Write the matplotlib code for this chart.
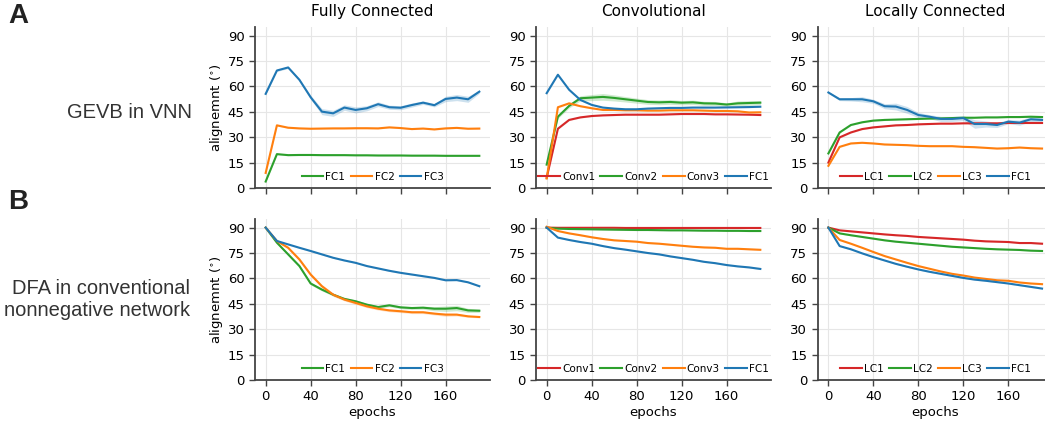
import numpy as np
import matplotlib
matplotlib.use("Agg")
import matplotlib.pyplot as plt

# epochs sampled every 10
epochs = np.arange(0, 200, 10)

BLUE = '#1f77b4'
ORANGE = '#ff7f0e'
GREEN = '#2ca02c'
RED = '#d62728'

# ---- A: GEVB in VNN ----
# fully connected
a_fc_fc1 = [3.8, 20.0, 19.4, 19.5, 19.5, 19.4, 19.4, 19.4, 19.3, 19.3, 19.2, 19.2, 19.2, 19.1, 19.1, 19.1, 19.0, 19.0, 19.0, 19.0]
a_fc_fc2 = [8.9, 37.0, 35.6, 35.2, 35.0, 35.1, 35.2, 35.2, 35.3, 35.3, 35.2, 35.8, 35.4, 34.8, 35.1, 34.6, 35.2, 35.5, 35.0, 35.1]
a_fc_fc3 = [55.6, 69.4, 71.2, 63.9, 53.6, 45.1, 44.1, 47.5, 46.1, 47.1, 49.5, 47.7, 47.4, 49.0, 50.4, 48.9, 52.6, 53.4, 52.4, 56.9]
a_fc_fc3_sd = [0.5, 0.6, 0.6, 0.8, 1.2, 1.8, 1.8, 1.6, 1.8, 1.5, 1.4, 1.2, 1.2, 1.2, 1.0, 1.0, 1.6, 1.8, 1.8, 1.0]
# convolutional
a_cv_conv1 = [6.0, 35.0, 40.2, 41.7, 42.5, 42.9, 43.1, 43.3, 43.3, 43.3, 43.3, 43.5, 43.7, 43.7, 43.7, 43.5, 43.5, 43.4, 43.3, 43.1]
a_cv_conv2 = [13.8, 42.1, 48.5, 53.0, 53.4, 53.8, 53.2, 52.4, 51.6, 50.8, 50.6, 50.8, 50.4, 50.6, 50.0, 49.9, 49.3, 50.0, 50.2, 50.4]
a_cv_conv2_sd = [0.5, 1.0, 1.2, 1.5, 1.8, 2.0, 1.8, 1.6, 1.5, 1.4, 1.4, 1.4, 1.3, 1.3, 1.2, 1.2, 1.0, 1.4, 1.4, 1.2]
a_cv_conv3 = [5.6, 47.7, 50.0, 48.3, 47.1, 46.1, 46.1, 45.9, 45.9, 45.7, 45.7, 45.9, 45.9, 45.9, 45.7, 45.5, 45.5, 45.3, 44.6, 44.7]
a_cv_fc1 = [56.0, 66.9, 58.0, 52.0, 49.1, 47.5, 46.9, 46.5, 46.5, 46.9, 47.1, 47.3, 47.3, 47.5, 47.5, 47.5, 47.6, 47.7, 47.8, 48.0]
# locally connected
a_lc_lc1 = [15.0, 29.9, 32.8, 34.8, 35.8, 36.4, 37.0, 37.2, 37.6, 37.8, 38.0, 38.0, 38.2, 38.2, 38.2, 38.2, 38.4, 38.4, 38.4, 38.4]
a_lc_lc2 = [20.4, 32.8, 37.2, 38.8, 39.8, 40.2, 40.4, 40.6, 40.8, 41.0, 41.1, 41.3, 41.5, 41.5, 41.7, 41.7, 41.9, 41.9, 42.1, 41.9]
a_lc_lc3 = [13.1, 24.3, 26.3, 26.7, 26.3, 25.7, 25.5, 25.3, 24.9, 24.7, 24.7, 24.7, 24.3, 24.1, 23.7, 23.3, 23.5, 23.9, 23.5, 23.3]
a_lc_fc1 = [56.4, 52.4, 52.4, 52.4, 51.2, 48.3, 48.1, 46.1, 43.1, 42.1, 40.8, 40.8, 41.3, 37.8, 37.8, 37.2, 39.2, 38.6, 40.6, 40.2]
a_lc_fc1_sd = [0.5, 0.8, 1.0, 1.5, 1.2, 1.5, 2.0, 2.0, 1.5, 1.2, 1.5, 1.5, 1.5, 2.5, 1.8, 1.5, 1.2, 1.5, 1.5, 1.2]

# ---- B: DFA in conventional nonnegative network ----
b_fc_fc1 = [90.0, 81.1, 74.2, 67.3, 57.0, 53.4, 50.4, 47.9, 46.5, 44.5, 43.1, 44.1, 42.9, 42.5, 42.7, 42.1, 42.1, 42.5, 41.1, 40.9]
b_fc_fc1_sd = [0.2, 0.5, 0.8, 0.8, 0.8, 0.8, 0.8, 0.8, 0.8, 0.8, 0.8, 0.8, 0.8, 0.8, 0.9, 1.2, 1.6, 1.6, 1.2, 1.0]
b_fc_fc2 = [90.0, 82.1, 78.1, 71.2, 62.3, 55.4, 50.4, 47.5, 45.5, 43.5, 42.1, 41.1, 40.6, 40.0, 40.0, 39.2, 38.6, 38.6, 37.6, 37.2]
b_fc_fc2_sd = [0.2, 0.5, 0.8, 1.0, 1.0, 1.0, 1.0, 0.8, 0.8, 0.8, 0.8, 0.8, 0.8, 0.8, 0.8, 0.8, 1.0, 0.8, 0.6, 0.5]
b_fc_fc3 = [90.0, 82.1, 80.1, 78.1, 76.2, 74.2, 72.2, 70.6, 69.2, 67.3, 65.9, 64.5, 63.3, 62.3, 61.3, 60.3, 58.9, 59.0, 57.7, 55.4]
b_cv_conv1 = [90.0, 89.9, 89.9, 89.9, 89.9, 89.9, 89.9, 89.8, 89.8, 89.8, 89.8, 89.8, 89.8, 89.8, 89.8, 89.8, 89.8, 89.8, 89.8, 89.8]
b_cv_conv2 = [90.0, 89.4, 89.2, 89.1, 89.0, 88.9, 88.8, 88.7, 88.6, 88.6, 88.5, 88.4, 88.4, 88.3, 88.2, 88.2, 88.1, 88.1, 88.0, 88.0]
b_cv_conv3 = [90.5, 88.0, 86.6, 85.5, 84.3, 83.3, 82.5, 82.1, 81.7, 80.9, 80.5, 79.9, 79.3, 78.7, 78.3, 78.1, 77.5, 77.5, 77.2, 76.9]
b_cv_fc1 = [90.0, 84.1, 82.7, 81.5, 80.5, 79.1, 77.9, 77.0, 76.0, 75.0, 74.2, 73.0, 72.0, 71.0, 69.8, 69.0, 67.9, 67.1, 66.5, 65.6]
b_lc_lc1 = [90.0, 88.4, 87.8, 87.2, 86.6, 86.0, 85.5, 85.1, 84.5, 84.1, 83.7, 83.3, 82.9, 82.3, 81.9, 81.7, 81.5, 80.9, 80.9, 80.5]
b_lc_lc2 = [90.0, 86.6, 85.5, 84.5, 83.5, 82.5, 81.7, 81.1, 80.5, 79.9, 79.3, 78.7, 78.3, 77.9, 77.5, 77.2, 77.0, 76.8, 76.4, 76.2]
b_lc_lc3 = [90.0, 82.7, 80.5, 78.1, 75.6, 73.2, 71.2, 69.2, 67.3, 65.7, 64.1, 62.7, 61.7, 60.5, 59.7, 58.9, 58.6, 57.6, 57.0, 56.6]
b_lc_fc1 = [90.0, 79.1, 77.2, 74.8, 72.6, 70.6, 68.6, 66.9, 65.3, 63.9, 62.7, 61.5, 60.3, 59.3, 58.6, 57.8, 57.0, 56.0, 55.0, 54.0]

col_titles = ['Fully Connected', 'Convolutional', 'Locally Connected']
row_titles = ['GEVB in VNN', 'DFA in conventional\nnonnegative network']
yticks = [0, 15, 30, 45, 60, 75, 90]
xticks = [0, 40, 80, 120, 160]

# (label, values, sd or None, color) per panel
panels = [
    [
        [('FC1', a_fc_fc1, None, GREEN), ('FC2', a_fc_fc2, None, ORANGE), ('FC3', a_fc_fc3, a_fc_fc3_sd, BLUE)],
        [('Conv1', a_cv_conv1, None, RED), ('Conv2', a_cv_conv2, a_cv_conv2_sd, GREEN),
         ('Conv3', a_cv_conv3, None, ORANGE), ('FC1', a_cv_fc1, None, BLUE)],
        [('LC1', a_lc_lc1, None, RED), ('LC2', a_lc_lc2, None, GREEN),
         ('LC3', a_lc_lc3, None, ORANGE), ('FC1', a_lc_fc1, a_lc_fc1_sd, BLUE)],
    ],
    [
        [('FC1', b_fc_fc1, b_fc_fc1_sd, GREEN), ('FC2', b_fc_fc2, b_fc_fc2_sd, ORANGE), ('FC3', b_fc_fc3, None, BLUE)],
        [('Conv1', b_cv_conv1, None, RED), ('Conv2', b_cv_conv2, None, GREEN),
         ('Conv3', b_cv_conv3, None, ORANGE), ('FC1', b_cv_fc1, None, BLUE)],
        [('LC1', b_lc_lc1, None, RED), ('LC2', b_lc_lc2, None, GREEN),
         ('LC3', b_lc_lc3, None, ORANGE), ('FC1', b_lc_fc1, None, BLUE)],
    ],
]

fig = plt.figure(figsize=(10.45, 4.23), dpi=100)

lefts = [0.244, 0.5129, 0.7825]
bottoms = [0.5556, 0.1017]
W, H = 0.2249, 0.381

for r in range(2):
    for c in range(3):
        ax = fig.add_axes([lefts[c], bottoms[r], W, H])
        for lab, vals, sd, col in panels[r][c]:
            vals = np.array(vals)
            ax.plot(epochs, vals, color=col, lw=1.5, label=lab)
            if sd is not None:
                sd = np.array(sd)
                ax.fill_between(epochs, vals - sd, vals + sd, color=col, alpha=0.22, lw=0)
            else:
                ax.fill_between(epochs, vals - 0.4, vals + 0.4, color=col, alpha=0.15, lw=0)
        ax.set_ylim(0, 95.2)
        ax.set_xlim(-9.5, 199.5)
        ax.set_yticks(yticks)
        ax.set_xticks(xticks)
        ax.grid(True, color='#e6e6e6', lw=0.8)
        ax.set_axisbelow(True)
        for s in ['top', 'right']:
            ax.spines[s].set_visible(False)
        for s in ['left', 'bottom']:
            ax.spines[s].set_color('#444444')
            ax.spines[s].set_linewidth(1.3)
        ax.tick_params(labelsize=9.5, color='#444444', width=1.0, length=4)
        if r == 0:
            ax.set_title(col_titles[c], fontsize=11, pad=8)
            ax.tick_params(labelbottom=False)
        else:
            ax.set_xlabel('epochs', fontsize=9.5, labelpad=2)
        if c == 0:
            ax.set_ylabel('alignemnt ($^{\\circ}$)', fontsize=9.5, labelpad=2)
        ax.legend(loc='lower center', ncol=len(panels[r][c]), frameon=False,
                  fontsize=7.5, handlelength=2.1, handletextpad=0.2,
                  columnspacing=0.5, borderaxespad=0.2)

fig.text(0.008, 0.945, 'A', fontsize=20, fontweight='bold', family='Liberation Sans', color='#222222')
fig.text(0.008, 0.505, 'B', fontsize=20, fontweight='bold', family='Liberation Sans', color='#222222')
fig.text(0.184, 0.733, row_titles[0], fontsize=14.5, ha='right', va='center',
         family='Liberation Sans', color='#333333')
fig.text(0.182, 0.291, row_titles[1], fontsize=14.5, ha='right', va='center',
         family='Liberation Sans', color='#333333', linespacing=1.2)

fig.savefig('out.png', dpi=100)
